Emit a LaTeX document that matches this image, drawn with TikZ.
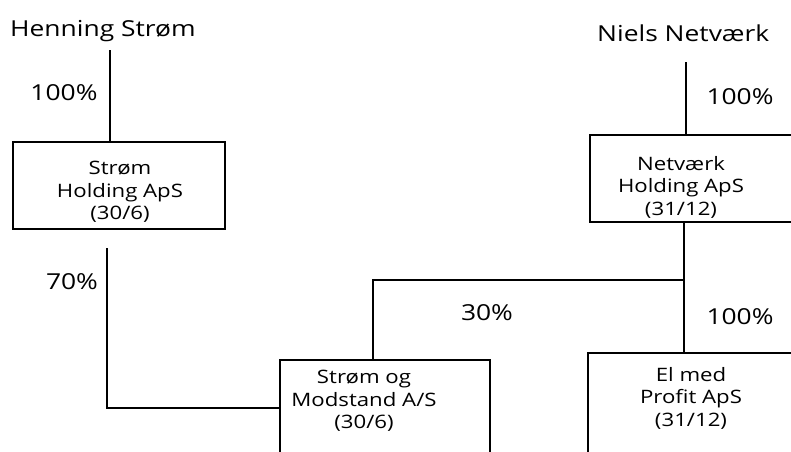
\documentclass[tikz,border=0pt]{standalone}
\usepackage{fontspec}
\setmainfont{Open Sans}[FakeStretch=1.2]
\begin{document}
\begin{tikzpicture}[x=1pt,y=-1pt,
  ln/.style={line width=1.6pt},
  boxline/.style={ln},
  pername/.style={font=\fontsize{22}{24}\selectfont, inner sep=0pt},
  pctlabel/.style={font=\fontsize{22}{24}\selectfont, inner sep=0pt},
  btxt/.style={font=\fontsize{18.5}{22.5}\selectfont, align=center, inner sep=0pt}]
\useasboundingbox (0,0) rectangle (791,451);
% people
\node[pername, anchor=west] (hs) at (10,31) {Henning Strøm};
\node[pername, anchor=west] (nn) at (597,33) {Niels Netværk};
% boxes
\draw[boxline] (13,142) rectangle (225,229);
\node[btxt] (sh) at (120,192) {Strøm\\Holding ApS\\(30/6)};
\draw[boxline] (792,135) -- (590,135) -- (590,222) -- (792,222);
\node[btxt] (nh) at (681,187) {Netværk\\Holding ApS\\(31/12)};
\draw[boxline] (280,453) -- (280,360) -- (490,360) -- (490,453);
\node[btxt] (sm) at (364,401) {Strøm og\\Modstand A/S\\(30/6)};
\draw[boxline] (588,453) -- (588,353) -- (793,353);
\node[btxt] (ep) at (691,398) {El med\\Profit ApS\\(31/12)};
% connectors
\coordinate (a1) at (110,50);
\coordinate (a2) at (110,142);
\draw[ln] (a1) -- (a2);
\coordinate (b1) at (686,62);
\coordinate (b2) at (686,135);
\draw[ln] (b1) -- (b2);
\coordinate (c1) at (107,248);
\coordinate (c2) at (107,408);
\coordinate (c3) at (280,408);
\draw[ln] (c1) -- (c2) -- (c3);
\coordinate (d1) at (684,222);
\coordinate (d2) at (684,353);
\coordinate (d3) at (684,280);
\coordinate (d4) at (373,280);
\coordinate (d5) at (373,360);
\draw[ln] (d1) -- (d2);
\draw[ln] (d3) -- (d4) -- (d5);
% labels
\node[pctlabel] (p1) at (64,93) {100\%};
\node[pctlabel] (p2) at (740,97) {100\%};
\node[pctlabel] (p3) at (72,282) {70\%};
\node[pctlabel] (p4) at (487,313) {30\%};
\node[pctlabel] (p5) at (740,317) {100\%};
\end{tikzpicture}
\end{document}
